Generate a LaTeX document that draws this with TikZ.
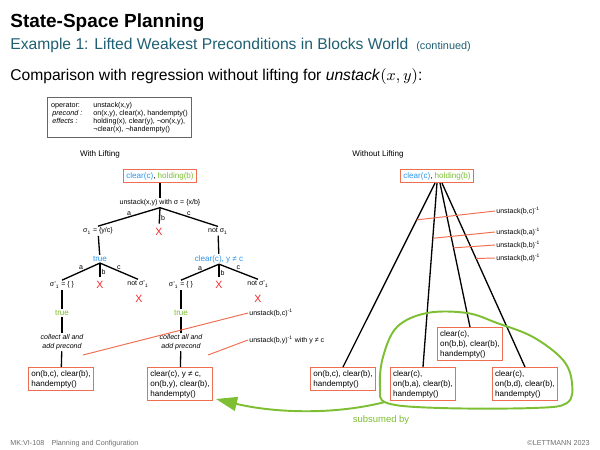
\documentclass[tikz,border=0pt]{standalone}
\usepackage{fontspec}
\setmainfont{Liberation Sans}
\usetikzlibrary{arrows.meta,calc}

\definecolor{headteal}{RGB}{30,95,115}
\definecolor{predblue}{RGB}{50,150,235}
\definecolor{predgreen}{RGB}{125,190,50}
\definecolor{boxorange}{RGB}{240,110,80}
\definecolor{crossred}{RGB}{240,40,40}
\definecolor{footgray}{RGB}{110,110,110}

\tikzset{
  lbl/.style={font=\fontsize{4}{4.8}\selectfont,inner sep=0.6pt},
  hdlbl/.style={font=\fontsize{4.6}{5.6}\selectfont,inner sep=0.6pt},
  state/.style={draw=boxorange,line width=0.6pt,align=left,inner sep=1.6pt,
    font=\fontsize{4.6}{5.7}\selectfont},
  branch/.style={line width=0.75pt},
  tag/.style={draw=boxorange,line width=0.55pt},
  cross/.style={text=crossred,font=\fontsize{6}{6}\selectfont,inner sep=0pt},
}

\begin{document}
\begin{tikzpicture}[x=0.02cm,y=-0.02cm]
  \useasboundingbox (0,0) rectangle (600,450);

  % header
  \node[anchor=base west,inner sep=0,font=\bfseries\fontsize{10.8}{12}\selectfont] (title) at (10,27) {State-Space Planning};
  \node[anchor=base west,inner sep=0,text=headteal,font=\fontsize{8.9}{10}\selectfont] (sub) at (10,49) {Example 1: Lifted Weakest Preconditions in Blocks World};
  \node[anchor=base west,inner sep=0,text=headteal,font=\fontsize{6.2}{7}\selectfont] (cont) at (416,49) {(continued)};
  \node[anchor=base west,inner sep=0,font=\fontsize{8.9}{10}\selectfont] (cmp) at (10,80) {Comparison with regression without lifting for \textit{unstack}$(x,y)$:};

  % operator
  \node[draw=black!60,line width=0.7pt,anchor=north west,inner xsep=2pt,inner ysep=2.2pt,font=\fontsize{4.1}{4.6}\selectfont] (oper) at (47,97)
    {\begin{tabular}{@{}p{24pt}@{}l@{}}
      operator: & unstack(x,y)\\
      \textit{\,precond :} & on(x,y), clear(x), handempty()\\
      \textit{\,effects :} & holding(x), clear(y), ¬on(x,y),\\
      & ¬clear(x), ¬handempty()
    \end{tabular}};

  % with lifting
  \node[hdlbl] (withL) at (100,154) {With Lifting};
  \node[state] (rootL) at (160,176) {\textcolor{predblue}{clear(c)}, \textcolor{predgreen}{holding(b)}};
  \node[lbl] (opL) at (160,203) {unstack(x,y) with σ = \{x/b\}};
  \node[lbl] (sigL) at (98,231) {σ\textsubscript{1} = \{y/c\}};
  \node[cross] (xL) at (159,232) {X};
  \node[lbl] (nsigL) at (218,231) {not σ\textsubscript{1}};
  \draw[branch] (rootL) -- (opL);
  \draw[branch] (opL.south) -- node[lbl,above]{a} (sigL.north);
  \draw[branch,shorten >=2.5pt] (opL.south) -- node[lbl,right]{b} (xL.north);
  \draw[branch] (opL.south) -- node[lbl,above]{c} (nsigL.north);

  \node[hdlbl,text=predblue] (trueL) at (100,259) {true};
  \node[hdlbl,text=predblue] (clrL) at (219,259) {clear(c), y ≠ c};
  \draw[branch] (sigL) -- (trueL);
  \draw[branch] (nsigL) -- (clrL);

  \node[lbl] (sAL) at (62,285) {σ'\textsubscript{1} = \{ \}};
  \node[cross] (xAL) at (100,285) {X};
  \node[lbl] (nsAL) at (138,284) {not σ'\textsubscript{1}};
  \node[cross] (xAL2) at (139,299) {X};
  \draw[branch] (trueL.south) -- node[lbl,above]{a} (sAL.north);
  \draw[branch,shorten >=2.5pt] (trueL.south) -- node[lbl,right]{b} (xAL.north);
  \draw[branch] (trueL.south) -- node[lbl,above]{c} (nsAL.north);

  \node[lbl] (sBL) at (181,285) {σ'\textsubscript{1} = \{ \}};
  \node[cross] (xBL) at (219,285) {X};
  \node[lbl] (nsBL) at (258,284) {not σ'\textsubscript{1}};
  \node[cross] (xBL2) at (258,299) {X};
  \draw[branch] (clrL.south) -- node[lbl,above]{a} (sBL.north);
  \draw[branch,shorten >=2.5pt] (clrL.south) -- node[lbl,right]{b} (xBL.north);
  \draw[branch] (clrL.south) -- node[lbl,above]{c} (nsBL.north);

  \node[hdlbl,text=predgreen] (tAL) at (62,313) {true};
  \node[hdlbl,text=predgreen] (tBL) at (181,313) {true};
  \node[lbl,font=\itshape\fontsize{4}{5.2}\selectfont,align=center] (colA) at (62,342) {collect all and\\add precond};
  \node[lbl,font=\itshape\fontsize{4}{5.2}\selectfont,align=center] (colB) at (181,342) {collect all and\\add precond};
  \node[state,anchor=north] (resA) at (61,367) {on(b,c), clear(b),\\handempty()};
  \node[state,anchor=north] (resB) at (180,367) {clear(c), y ≠ c,\\on(b,y), clear(b),\\handempty()};
  \draw[branch] (sAL) -- (tAL);
  \draw[branch] (tAL) -- (colA);
  \draw[branch] (colA) -- (resA);
  \draw[branch] (sBL) -- (tBL);
  \draw[branch] (tBL) -- (colB);
  \draw[branch] (colB) -- (resB);

  \coordinate (tagA) at (83,355);
  \coordinate (tagB) at (208,355);
  \node[lbl,anchor=west] (tagAl) at (248,313) {unstack(b,c)\textsuperscript{-1}};
  \node[lbl,anchor=west] (tagBl) at (248,340) {unstack(b,y)\textsuperscript{-1} with y ≠ c};
  \draw[tag] (tagA) -- (tagAl.west);
  \draw[tag] (tagB) -- (tagBl.west);

  % without lifting
  \node[hdlbl] (withoutL) at (378,154) {Without Lifting};
  \node[state] (rootR) at (437,176) {\textcolor{predblue}{clear(c)}, \textcolor{predgreen}{holding(b)}};
  \node[state,anchor=north] (resR1) at (343,367) {on(b,c), clear(b),\\handempty()};
  \node[state,anchor=north] (resR2) at (423,367) {clear(c),\\on(b,a), clear(b),\\handempty()};
  \node[state,anchor=north] (resR3) at (470,327) {clear(c),\\on(b,b), clear(b),\\handempty()};
  \node[state,anchor=north] (resR4) at (525,367) {clear(c),\\on(b,d), clear(b),\\handempty()};
  \draw[branch] ($(rootR.south)+(-2,0)$) -- coordinate[pos=0.2] (onR1) (resR1.north);
  \draw[branch] ($(rootR.south)+(0,0)$) -- coordinate[pos=0.3] (onR2) (resR2.north);
  \draw[branch] ($(rootR.south)+(3,0)$) -- coordinate[pos=0.45] (onR3) (resR3.north);
  \draw[branch] ($(rootR.south)+(5,0)$) -- coordinate[pos=0.41] (onR4) (resR4.north);

  \node[lbl,anchor=west] (tagR1) at (495,211) {unstack(b,c)\textsuperscript{-1}};
  \node[lbl,anchor=west] (tagR2) at (495,232) {unstack(b,a)\textsuperscript{-1}};
  \node[lbl,anchor=west] (tagR3) at (495,245) {unstack(b,b)\textsuperscript{-1}};
  \node[lbl,anchor=west] (tagR4) at (495,258) {unstack(b,d)\textsuperscript{-1}};
  \draw[tag] (onR1) -- (tagR1.west);
  \draw[tag] (onR2) -- (tagR2.west);
  \draw[tag] (onR3) -- (tagR3.west);
  \draw[tag] (onR4) -- (tagR4.west);

  % subsumption
  \draw[predgreen,line width=1.1pt] plot[smooth cycle,tension=0.6] coordinates
    {(397,327) (427,313) (467,313) (497,323) (533,337) (563,360) (572,383)
     (567,403) (533,408) (440,408) (387,403) (380,387) (383,357)};
  \coordinate (blobtail) at (385,402);
  \coordinate (subTip) at (216,399);
  \draw[predgreen,line width=1.1pt,-{Triangle[length=12pt,width=8pt]}]
    (blobtail) .. controls (330,416) and (270,412) .. (subTip);
  \node[text=predgreen,font=\fontsize{5.4}{6}\selectfont,inner sep=0] (subs) at (381,420) {subsumed by};

  % footer
  \node[anchor=base west,inner sep=0,text=footgray,font=\fontsize{4.1}{4.5}\selectfont] (footL) at (10,445) {MK:VI-108\hspace{1em}Planning and Configuration};
  \node[anchor=base east,inner sep=0,text=footgray,font=\fontsize{4.1}{4.5}\selectfont] (footR) at (590,445) {©LETTMANN 2023};
\end{tikzpicture}
\end{document}
